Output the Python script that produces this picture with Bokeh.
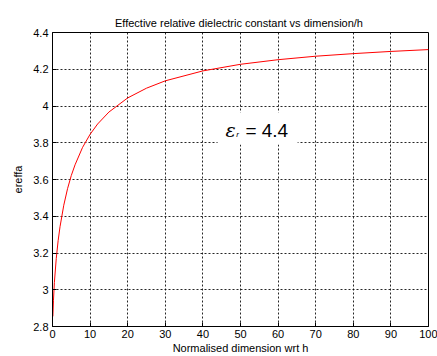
from bokeh.plotting import figure
from bokeh.models import Range1d, FixedTicker, Label, BoxAnnotation
from bokeh.embed import file_html
from bokeh.resources import INLINE

# Data
w_over_h = [0.1, 0.25, 0.5, 1, 1.5, 2, 3, 4, 5, 6, 8, 10, 12, 15, 20, 25, 30,
            40, 50, 60, 70, 80, 90, 100]
ereffa = [2.855, 2.94, 3.04, 3.17, 3.267, 3.343, 3.46, 3.55, 3.622, 3.68, 3.775,
          3.846, 3.902, 3.967, 4.044, 4.097, 4.137, 4.191, 4.227, 4.252, 4.271,
          4.285, 4.297, 4.307]

x_ticks = [0, 10, 20, 30, 40, 50, 60, 70, 80, 90, 100]
x_tick_labels = ["0", "10", "20", "30", "40", "50", "60", "70", "80", "90", "100"]
y_ticks = [2.8, 3.0, 3.2, 3.4, 3.6, 3.8, 4.0, 4.2, 4.4]
y_tick_labels = ["2.8", "3", "3.2", "3.4", "3.6", "3.8", "4", "4.2", "4.4"]

title_text = "Effective relative  dielectric constant vs dimension/h"
x_label = "Normalised dimension wrt h"
y_label = "ereffa"
eps_value = "= 4.4"

FONT = "Liberation Sans"

p = figure(width=437, height=356, output_backend="svg", toolbar_location=None,
           x_range=Range1d(0, 100), y_range=Range1d(2.8, 4.4),
           min_border_left=52, min_border_right=9, min_border_top=32,
           min_border_bottom=30)

p.title.text = title_text
p.title.align = "center"
p.title.text_font = FONT
p.title.text_font_size = "11px"
p.title.text_font_style = "normal"
p.title.text_color = "black"
p.title.standoff = 8

p.background_fill_color = "white"
p.border_fill_color = "white"
p.outline_line_color = "black"
p.outline_line_width = 1
p.outline_line_alpha = 1

for ax in (p.xaxis[0], p.yaxis[0]):
    ax.axis_line_color = "black"
    ax.major_tick_line_color = "black"
    ax.major_tick_in = 4
    ax.major_tick_out = 0
    ax.minor_tick_line_color = None
    ax.major_label_text_font = FONT
    ax.major_label_text_font_size = "11px"
    ax.major_label_text_color = "black"
    ax.axis_label_text_font = FONT
    ax.axis_label_text_font_size = "11px"
    ax.axis_label_text_font_style = "normal"
    ax.axis_label_text_color = "black"

p.xaxis.ticker = FixedTicker(ticks=x_ticks)
p.yaxis.ticker = FixedTicker(ticks=y_ticks)
p.xaxis.major_label_overrides = {t: l for t, l in zip(x_ticks, x_tick_labels)}
p.yaxis.major_label_overrides = {t: l for t, l in zip(y_ticks, y_tick_labels)}
p.xaxis.axis_label = x_label
p.yaxis.axis_label = y_label
p.xaxis.major_label_standoff = 3
p.xaxis.axis_label_standoff = 1
p.yaxis.major_label_standoff = 4
p.yaxis.axis_label_standoff = 6

for g in (p.xgrid[0], p.ygrid[0]):
    g.grid_line_color = "black"
    g.grid_line_dash = "2 2"
    g.grid_line_width = 1
    g.grid_line_alpha = 0.85
p.xgrid.ticker = FixedTicker(ticks=x_ticks)
p.ygrid.ticker = FixedTicker(ticks=y_ticks)

p.line(w_over_h, ereffa, line_color="red", line_width=1)

box = BoxAnnotation(left=43.9, right=65.2, bottom=3.79, top=3.965,
                    fill_color="white", fill_alpha=1, line_color=None)
p.add_layout(box)

eps = Label(x=46.0, y=3.867, text="ε", text_font="DejaVu Serif",
            text_font_style="italic", text_font_size="19px",
            text_color="black", text_baseline="alphabetic")
sub = Label(x=48.9, y=3.845, text="r", text_font=FONT,
            text_font_style="italic", text_font_size="8px",
            text_color="black", text_baseline="alphabetic")
val = Label(x=51.3, y=3.867, text=eps_value, text_font=FONT,
            text_font_size="19px", text_color="black",
            text_baseline="alphabetic")
for lb in (eps, sub, val):
    p.add_layout(lb)

open("out.html", "w").write(file_html(p, INLINE))
